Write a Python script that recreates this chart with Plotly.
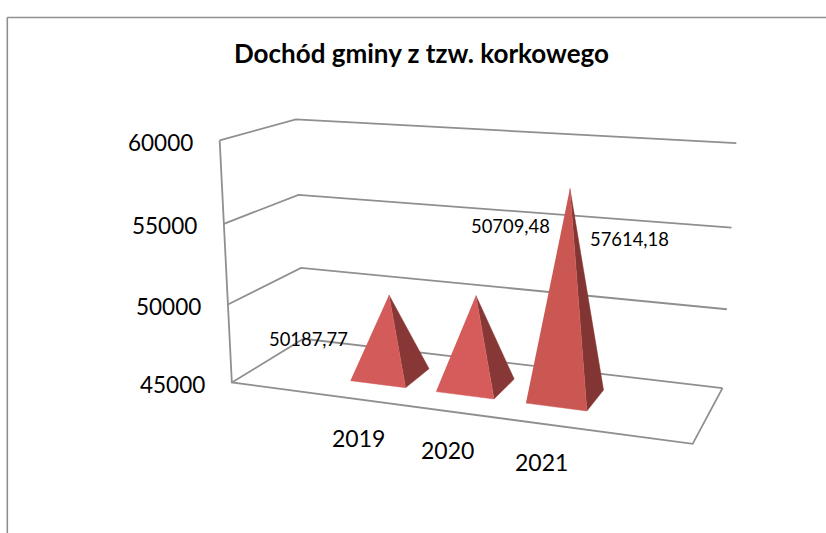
import numpy as np
import plotly.graph_objects as go

title = "Dochód gminy z tzw. korkowego"
categories = ["2019", "2020", "2021"]
values = [50187.77, 50709.48, 57614.18]
value_labels = ["50187,77", "50709,48", "57614,18"]
ticks = [45000, 50000, 55000, 60000]
tick_labels = ["45000", "50000", "55000", "60000"]

# Excel's 3D view: floor has five category slots, depth 0..1, value axis 45000..60000
SLOTS = 5
FIRST_SLOT = 1
Z0, Z1 = ticks[0], ticks[-1]
CAMERA = np.array([
    [75.48237, 104.420493, -23.186007, 231.84768],
    [1.580294, -6.977444, -249.162212, 382.465596],
    [-0.024087, 0.108275, -0.050098, 1.0],
])
HALF_W, HALF_D = 0.325, 0.2
GRID = "#8f8f8f"
FRONT = ["#d35b59", "#d55c5a", "#cb5753"]
SIDE = ["#873836", "#873836", "#823533"]
LABEL_OFFSET = [(-81, 44), (35, -70), (60, 50)]


def project(x, y, v):
    h = CAMERA @ np.array([x, y, (v - Z0) / (Z1 - Z0), 1.0])
    return float(h[0] / h[2]), float(h[1] / h[2])


def path(points):
    pts = [project(*p) for p in points]
    return [p[0] for p in pts], [p[1] for p in pts]


def line(points):
    xs, ys = path(points)
    return go.Scatter(x=xs, y=ys, mode="lines", line=dict(color=GRID, width=1.8),
                      hoverinfo="skip")


fig = go.Figure()

# gridlines along the left and back walls
for t in ticks:
    fig.add_trace(line([(0, 0, t), (0, 1, t), (SLOTS, 1, t)]))
# left wall edge and floor outline
fig.add_trace(line([(0, 0, Z1), (0, 0, Z0), (SLOTS, 0, Z0), (SLOTS, 1, Z0)]))

annotations = []
for i, (cat, val, lab) in enumerate(zip(categories, values, value_labels)):
    c = FIRST_SLOT + i + 0.5
    apex = (c, 0.5, val)
    fl = (c - HALF_W, 0.5 - HALF_D, Z0)
    fr = (c + HALF_W, 0.5 - HALF_D, Z0)
    br = (c + HALF_W, 0.5 + HALF_D, Z0)
    for pts, col in (([fr, br, apex], SIDE[i]), ([fl, fr, apex], FRONT[i])):
        xs, ys = path(pts)
        fig.add_trace(go.Scatter(x=xs, y=ys, mode="lines", fill="toself", fillcolor=col,
                                 line=dict(color=col, width=0.5), hoverinfo="skip"))
    ax, ay = project(*apex)
    annotations.append(dict(x=ax, y=ay, text=lab, showarrow=False, xshift=LABEL_OFFSET[i][0],
                            yshift=-LABEL_OFFSET[i][1], font=dict(size=18.4, color="#000")))
    bx, by = project(c, 0, Z0)
    annotations.append(dict(x=bx, y=by, text=cat, showarrow=False, yshift=-38.5,
                            font=dict(size=23, color="#000")))

for t, lab in zip(ticks, tick_labels):
    x0, y0 = project(0, 0, t)
    annotations.append(dict(x=x0, y=y0, text=lab, showarrow=False, xanchor="right", xshift=-25,
                            yshift=-2, font=dict(size=22.5, color="#000")))

annotations.append(dict(x=421.5, y=52.5, text="<b>%s</b>" % title, showarrow=False,
                        font=dict(size=26, color="#000")))

FX, FY = 7.3 / 826, 1 - 17.5 / 533
frame = [dict(type="line", xref="paper", yref="paper", x0=x0, x1=x1, y0=y0, y1=y1,
              line=dict(color=GRID, width=1.6))
         for x0, x1, y0, y1 in [(FX, FX, 0, FY), (FX, 1, FY, FY)]]

fig.update_layout(
    width=826, height=533, margin=dict(l=0, r=0, t=0, b=0), showlegend=False,
    paper_bgcolor="#fff", plot_bgcolor="#fff", font=dict(family="Lato, Carlito, sans-serif"),
    xaxis=dict(range=[0, 826], visible=False, fixedrange=True),
    yaxis=dict(range=[533, 0], visible=False, fixedrange=True),
    annotations=annotations, shapes=frame,
)
fig.write_html("out.html", config={"displayModeBar": False},
               post_script="document.body.style.margin='0';document.body.style.overflow='hidden';")
